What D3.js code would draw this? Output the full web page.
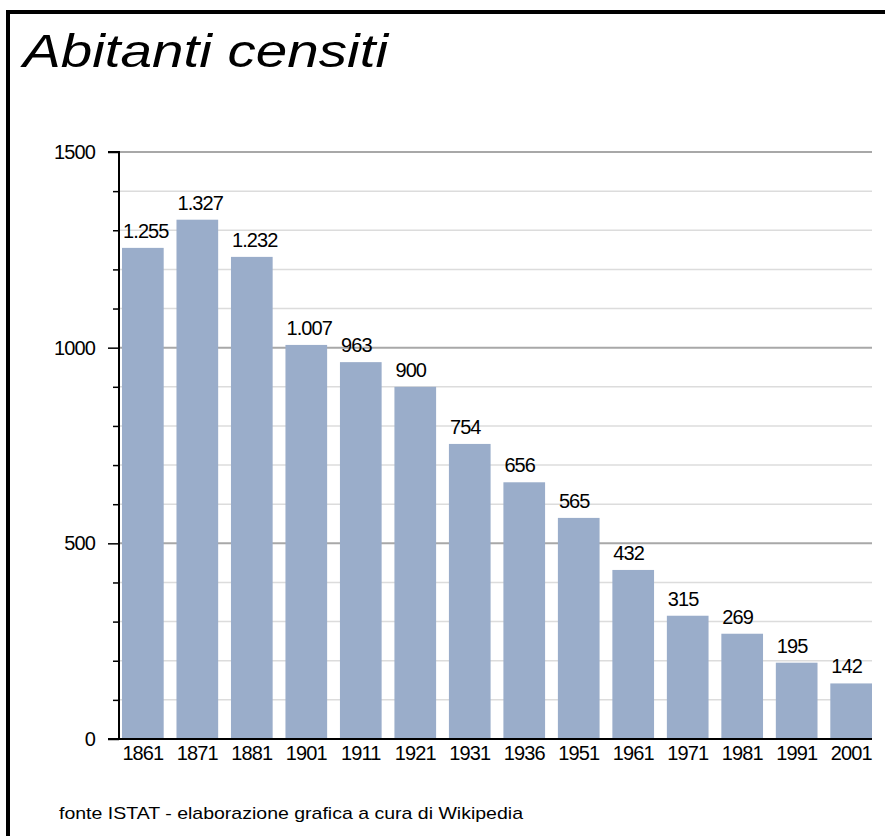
<!DOCTYPE html>
<html><head><meta charset="utf-8">
<script src="https://cdn.jsdelivr.net/npm/d3@7"></script>
<style>body{margin:0;background:#fff}svg{display:block}</style>
</head><body><svg id="c" width="885" height="836"></svg>
<script>
const years = ["1861","1871","1881","1901","1911","1921","1931","1936","1951","1961","1971","1981","1991","2001"];
const population = [1255,1327,1232,1007,963,900,754,656,565,432,315,269,195,142];
const majorTicks = [0,500,1000,1500];
const minorTicks = [100,200,300,400,600,700,800,900,1100,1200,1300,1400];
const titleText = "Abitanti censiti";
const sourceText = "fonte ISTAT - elaborazione grafica a cura di Wikipedia";

const svg = d3.select("#c");
const font = "'Liberation Sans', Arial, sans-serif";
const fmt = d3.formatLocale({decimal:",", thousands:".", grouping:[3], currency:["","€"]}).format(",d");

const gridRight = 872;
const x = d3.scaleBand().domain(years).range([122, gridRight]).paddingInner(0.235).paddingOuter(0);
const y = d3.scaleLinear().domain([0,1500]).range([739,152]);

// frame
svg.append("rect").attr("x",8).attr("y",12).attr("width",900).attr("height",900)
  .attr("fill","none").attr("stroke","#000").attr("stroke-width",4);

// title
svg.append("text").attr("x",23).attr("y",67).attr("font-family",font).attr("font-style","italic")
  .attr("font-size",46).attr("textLength",365).attr("lengthAdjust","spacingAndGlyphs")
  .attr("fill","#000").text(titleText);

// gridlines
svg.append("g").selectAll("line").data(minorTicks).join("line")
  .attr("x1",119).attr("x2",gridRight).attr("y1",d=>y(d)).attr("y2",d=>y(d))
  .attr("stroke","#dcdcdc").attr("stroke-width",1.5);
svg.append("g").selectAll("line").data(majorTicks.filter(d=>d>0)).join("line")
  .attr("x1",119).attr("x2",gridRight).attr("y1",d=>y(d)).attr("y2",d=>y(d))
  .attr("stroke","#a8a8a8").attr("stroke-width",2);

// bars
svg.append("g").selectAll("rect").data(population).join("rect")
  .attr("x",(d,i)=>x(years[i])).attr("width",x.bandwidth())
  .attr("y",d=>y(d)).attr("height",d=>y(0)-y(d)).attr("fill","#9aadca");

// value labels
svg.append("g").selectAll("text").data(population).join("text")
  .attr("x",(d,i)=>x(years[i])+1).attr("y",d=>y(d)-10)
  .attr("font-family",font).attr("font-size",20).attr("letter-spacing",-0.9).attr("fill","#000")
  .text(d=>fmt(d));

// y axis
const yAxisMajor = d3.axisLeft(y).tickValues(majorTicks).tickSize(11).tickPadding(13).tickFormat(d3.format("d"));
const gy = svg.append("g").attr("transform","translate(119,0)").call(yAxisMajor);
gy.select(".domain").attr("stroke","#000").attr("stroke-width",2).attr("d","M-11,152H0V739");
gy.selectAll(".tick line").attr("stroke","#000").attr("stroke-width",1.5);
gy.selectAll(".tick text").attr("font-family",font).attr("font-size",20).attr("letter-spacing",-0.9).attr("fill","#000");
const gyMinor = svg.append("g").attr("transform","translate(119,0)")
  .call(d3.axisLeft(y).tickValues(minorTicks).tickSize(6).tickFormat(""));
gyMinor.select(".domain").remove();
gyMinor.selectAll(".tick line").attr("stroke","#000").attr("stroke-width",1.5);

// x axis baseline
svg.append("line").attr("x1",108).attr("x2",gridRight).attr("y1",y(0)).attr("y2",y(0))
  .attr("stroke","#000").attr("stroke-width",2);
const gx = svg.append("g").attr("transform",`translate(0,${y(0)})`)
  .call(d3.axisBottom(x).tickSize(0).tickPadding(7));
gx.select(".domain").remove();
gx.selectAll(".tick text").attr("font-family",font).attr("font-size",20).attr("letter-spacing",-0.9).attr("fill","#000");

// source
svg.append("text").attr("x",59).attr("y",819).attr("font-family",font).attr("font-size",17)
  .attr("textLength",464).attr("lengthAdjust","spacingAndGlyphs").attr("fill","#000").text(sourceText);
</script></body></html>
